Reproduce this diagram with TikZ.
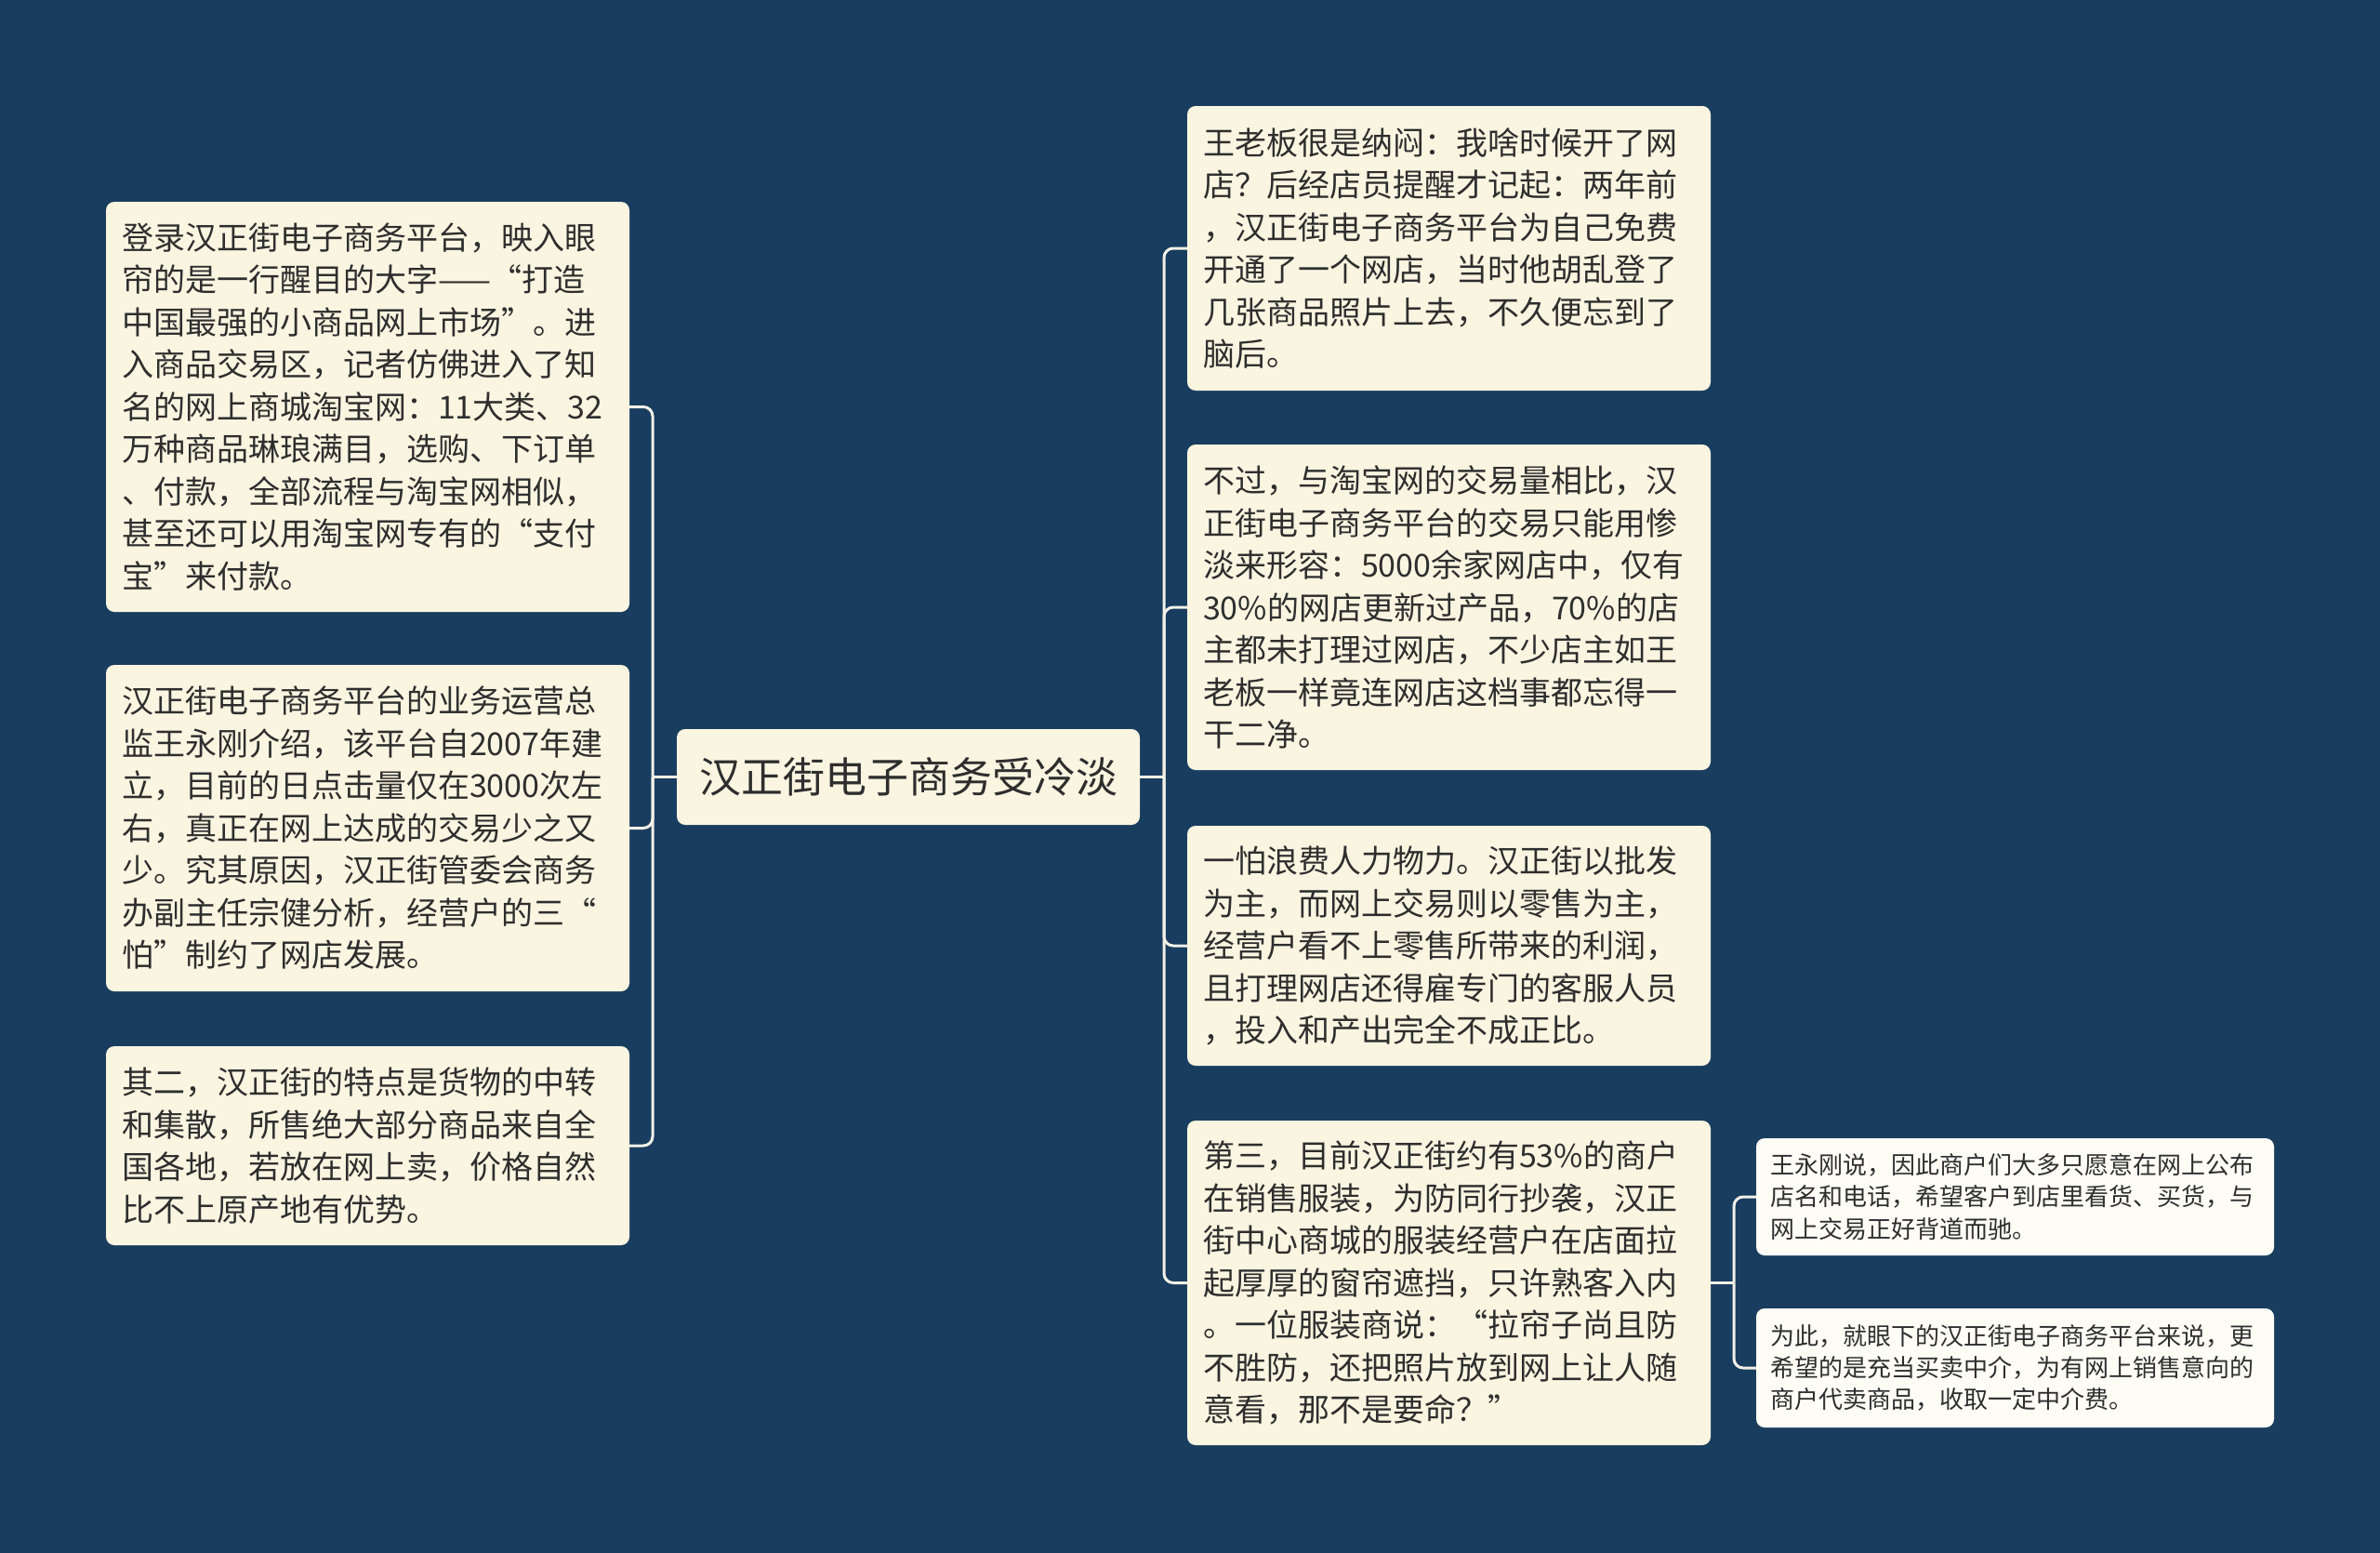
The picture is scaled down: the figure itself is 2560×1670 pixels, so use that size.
\documentclass[tikz,border=0pt]{standalone}
\usepackage{fontspec}
\setmainfont{Noto Sans CJK SC}
\definecolor{bg}{HTML}{183D5F}
\definecolor{boxfill}{HTML}{FAF5E1}
\definecolor{smallfill}{HTML}{FDFDF6}
\definecolor{linec}{HTML}{F2F0E6}
\definecolor{txt}{HTML}{2E2E2E}
\begin{document}
\begin{tikzpicture}[x=1pt,y=-1pt,
  card/.style={draw=none, rounded corners=9pt, fill=boxfill, text=txt, align=left, anchor=center, inner xsep=17pt, inner ysep=0pt, font=\fontsize{34}{45.5}\selectfont},
  bigcard/.style={card, text width=529pt, minimum width=563pt},
  smallcard/.style={card, fill=smallfill, text width=527pt, inner xsep=15pt, minimum width=557pt, font=\fontsize{26}{34.4}\selectfont},
  rootcard/.style={card, align=center, inner xsep=24pt, minimum width=498pt, minimum height=103pt, font=\fontsize{45}{54}\selectfont},
  conn/.style={draw=linec, line width=3pt, rounded corners=10pt}
]
\fill[bg] (0,0) rectangle (2560,1670);
\useasboundingbox (0,0) rectangle (2560,1670);

\node[rootcard] (root) at (977,835.5) {汉正街电子商务受冷淡};

\node[bigcard, minimum height=441pt] (l1) at (395.5,437.5) {登录汉正街电子商务平台，映入眼\\帘的是一行醒目的大字——“打造\\中国最强的小商品网上市场”。进\\入商品交易区，记者仿佛进入了知\\名的网上商城淘宝网：11大类、32\\万种商品琳琅满目，选购、下订单\\、付款，全部流程与淘宝网相似，\\甚至还可以用淘宝网专有的“支付\\宝”来付款。};
\node[bigcard, minimum height=351pt] (l2) at (395.5,890.5) {汉正街电子商务平台的业务运营总\\监王永刚介绍，该平台自2007年建\\立，目前的日点击量仅在3000次左\\右，真正在网上达成的交易少之又\\少。究其原因，汉正街管委会商务\\办副主任宗健分析，经营户的三“\\怕”制约了网店发展。};
\node[bigcard, minimum height=214pt] (l3) at (395.5,1232) {其二，汉正街的特点是货物的中转\\和集散，所售绝大部分商品来自全\\国各地，若放在网上卖，价格自然\\比不上原产地有优势。};

\node[bigcard, minimum height=306pt] (r1) at (1558.5,267) {王老板很是纳闷：我啥时候开了网\\店？后经店员提醒才记起：两年前\\，汉正街电子商务平台为自己免费\\开通了一个网店，当时他胡乱登了\\几张商品照片上去，不久便忘到了\\脑后。};
\node[bigcard, minimum height=350pt] (r2) at (1558.5,653) {不过，与淘宝网的交易量相比，汉\\正街电子商务平台的交易只能用惨\\淡来形容：5000余家网店中，仅有\\30\%的网店更新过产品，70\%的店\\主都未打理过网店，不少店主如王\\老板一样竟连网店这档事都忘得一\\干二净。};
\node[bigcard, minimum height=258pt] (r3) at (1558.5,1017) {一怕浪费人力物力。汉正街以批发\\为主，而网上交易则以零售为主，\\经营户看不上零售所带来的利润，\\且打理网店还得雇专门的客服人员\\，投入和产出完全不成正比。};
\node[bigcard, minimum height=349pt] (r4) at (1558.5,1379.5) {第三，目前汉正街约有53\%的商户\\在销售服装，为防同行抄袭，汉正\\街中心商城的服装经营户在店面拉\\起厚厚的窗帘遮挡，只许熟客入内\\。一位服装商说：“拉帘子尚且防\\不胜防，还把照片放到网上让人随\\意看，那不是要命？”};

\node[smallcard, minimum height=126pt] (s1) at (2167.5,1287) {王永刚说，因此商户们大多只愿意在网上公布\\店名和电话，希望客户到店里看货、买货，与\\网上交易正好背道而驰。};
\node[smallcard, minimum height=128pt] (s2) at (2167.5,1471) {为此，就眼下的汉正街电子商务平台来说，更\\希望的是充当买卖中介，为有网上销售意向的\\商户代卖商品，收取一定中介费。};

\coordinate (jl) at (702,835.5);
\coordinate (jr) at (1252,835.5);
\coordinate (js) at (1865,1379.5);

\draw[conn] (root.west) -- (jl);
\draw[conn] (jl) |- (l1.east);
\draw[conn] (jl) |- (l2.east);
\draw[conn] (jl) |- (l3.east);

\draw[conn] (root.east) -- (jr);
\draw[conn] (jr) |- (r1.west);
\draw[conn] (jr) |- (r2.west);
\draw[conn] (jr) |- (r3.west);
\draw[conn] (jr) |- (r4.west);

\draw[conn] (r4.east) -- (js);
\draw[conn] (js) |- (s1.west);
\draw[conn] (js) |- (s2.west);
\end{tikzpicture}
\end{document}
